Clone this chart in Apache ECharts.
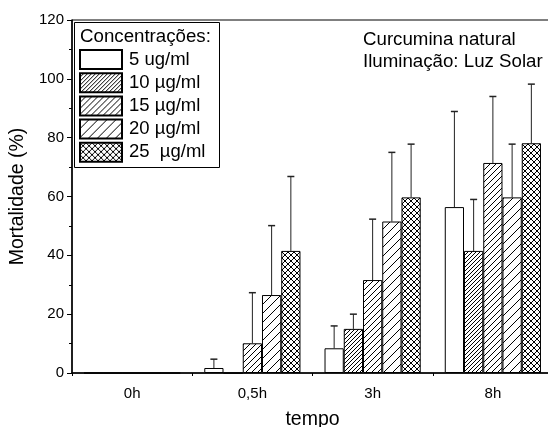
<!DOCTYPE html>
<html><head><meta charset="utf-8">
<script src="https://cdn.jsdelivr.net/npm/echarts@6/dist/echarts.min.js"></script>
<style>html,body{margin:0;padding:0;background:#fff}#c{width:548px;height:427px}</style>
</head><body><div id="c"></div>
<script>
const categories = ['0h', '0,5h', '3h', '8h'];
const seriesNames = ['5 ug/ml', '10 µg/ml', '15 µg/ml', '20 µg/ml', '25  µg/ml'];
const c5 = [0, 1.7, 8.4, 56.4];
const c5err = [0, 3.0, 7.6, 32.5];
const c10 = [0, 0, 15.0, 41.5];
const c10err = [0, 0, 5.0, 17.5];
const c15 = [0, 10.1, 31.6, 71.4];
const c15err = [0, 17.2, 20.7, 22.6];
const c20 = [0, 26.5, 51.5, 59.7];
const c20err = [0, 23.6, 23.5, 18.1];
const c25 = [0, 41.5, 59.7, 78.1];
const c25err = [0, 25.3, 18.1, 20.1];
const yTicks = [0, 20, 40, 60, 80, 100, 120];

const values = [c5, c10, c15, c20, c25];
const errs = [c5err, c10err, c15err, c20err, c25err];

function makePattern(kind, s) {
  const cv = document.createElement('canvas');
  cv.width = s; cv.height = s;
  const ctx = cv.getContext('2d');
  ctx.fillStyle = '#fff';
  ctx.fillRect(0, 0, s, s);
  if (kind === 'none') return cv;
  ctx.strokeStyle = '#000';
  ctx.lineWidth = 1;
  ctx.beginPath();
  for (let k = -1; k <= 1; k++) {
    ctx.moveTo(-1 + k * s, s + 1);
    ctx.lineTo(s + 1 + k * s, -1);
    if (kind === 'cross') {
      ctx.moveTo(-1 + k * s, -1);
      ctx.lineTo(s + 1 + k * s, s + 1);
    }
  }
  ctx.stroke();
  return cv;
}
const fills = [
  makePattern('none', 4),
  makePattern('diag', 4),
  makePattern('diag', 6),
  makePattern('diag', 9),
  makePattern('cross', 6)
];

const chart = echarts.init(document.getElementById('c'), null, {renderer: 'canvas'});
const font = 'Liberation Sans, Arial, sans-serif';
const barSeries = seriesNames.map((n, i) => ({
  name: n,
  type: 'bar',
  data: values[i],
  barGap: '0%',
  barCategoryGap: '20%',
  itemStyle: {
    color: {image: fills[i], repeat: 'repeat'},
    borderColor: '#000',
    borderWidth: 1
  },
  emphasis: {disabled: true},
  z: 2
}));

const errSeries = {
  type: 'custom',
  name: 'err',
  data: categories.map((c, ci) => ci),
  z: 1,
  renderItem: function (params, api) {
    const ci = api.value(0);
    const catW = api.size([1, 0])[0];
    const bw = catW * 0.8 / 5;
    const children = [];
    for (let i = 0; i < 5; i++) {
      const v = values[i][ci];
      const e = errs[i][ci];
      if (!e) continue;
      const base = api.coord([ci, v]);
      const top = api.coord([ci, v + e]);
      const x = base[0] + (i - 2) * bw;
      children.push({type: 'line', shape: {x1: x, y1: base[1], x2: x, y2: top[1]}, style: {stroke: '#222', lineWidth: 1}});
      children.push({type: 'line', shape: {x1: x - 3.5, y1: top[1], x2: x + 3.5, y2: top[1]}, style: {stroke: '#222', lineWidth: 1.5}});
    }
    return {type: 'group', children: children};
  }
};

chart.setOption({
  animation: false,
  backgroundColor: '#fff',
  textStyle: {fontFamily: font},
  grid: {left: 72, top: 20, width: 481, height: 353, outerBoundsMode: 'none', containLabel: false,
    show: true, borderColor: '#000', borderWidth: 1, backgroundColor: 'transparent'},
  xAxis: [{
    type: 'category',
    data: categories,
    name: 'tempo',
    nameLocation: 'middle',
    nameGap: 37,
    nameTextStyle: {fontSize: 19.5, color: '#000', fontFamily: font},
    axisLine: {lineStyle: {color: '#000', width: 1.5}},
    axisTick: {alignWithLabel: true, length: 6, lineStyle: {color: '#000'}},
    axisLabel: {fontSize: 15, color: '#000', margin: 13, fontFamily: font},
    splitLine: {show: false}
  }, {
    type: 'category',
    data: categories,
    position: 'bottom',
    axisLine: {show: false},
    axisTick: {show: true, length: 3, lineStyle: {color: '#000'}},
    axisLabel: {show: false},
    splitLine: {show: false}
  }],
  yAxis: {
    type: 'value',
    min: 0, max: 120, interval: 20,
    name: 'Mortalidade (%)',
    nameLocation: 'middle',
    nameGap: 33,
    nameTextStyle: {fontSize: 19.5, color: '#000', fontFamily: font},
    axisLine: {show: true, lineStyle: {color: '#000', width: 1.5}},
    axisTick: {show: true, length: 5, lineStyle: {color: '#000'}},
    minorTick: {show: true, splitNumber: 2, length: 3, lineStyle: {color: '#000'}},
    axisLabel: {fontSize: 15, color: '#000', margin: 8, fontFamily: font,
      formatter: v => yTicks.includes(v) ? String(v) : ''},
    splitLine: {show: false}
  },
  legend: {
    data: seriesNames,
    orient: 'vertical',
    left: 79, top: 49,
    padding: 0,
    itemWidth: 42, itemHeight: 19, itemGap: 2.2,
    icon: 'rect',
    selectedMode: false,
    textStyle: {fontSize: 18.5, lineHeight: 19, color: '#000', fontFamily: font, padding: [0, 0, 0, 2]}
  },
  graphic: [
    {type: 'rect', left: 74, top: 22, shape: {width: 145, height: 145}, style: {fill: '#fff', stroke: '#000', lineWidth: 1}, z: 0},
    {type: 'text', left: 80, top: 27, style: {text: 'Concentrações:', font: '18.7px ' + font, fill: '#000'}, z: 10},
    {type: 'text', left: 363, top: 29, style: {text: 'Curcumina natural\nIluminação: Luz Solar', font: '18.7px ' + font, fill: '#000', lineHeight: 22}, z: 10}
  ],
  series: [...barSeries, errSeries]
});
</script></body></html>
